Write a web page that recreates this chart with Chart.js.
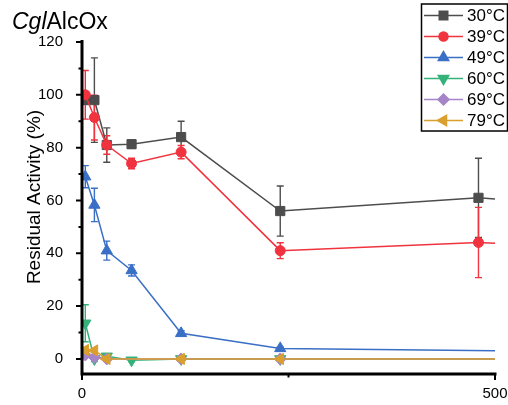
<!DOCTYPE html>
<html>
<head>
<meta charset="utf-8">
<script src="https://cdn.jsdelivr.net/npm/chart.js@4.4.1/dist/chart.umd.min.js"></script>
<style>
  html, body { margin: 0; padding: 0; background: #fff; }
  #wrap { width: 508px; height: 405px; position: relative; }
</style>
</head>
<body>
<div id="wrap"><canvas id="alcChart"></canvas></div>
<script>
// incubation times (min); the last point lies past the visible axis
const timesMain = [4, 15, 30, 60, 120, 240, 480, 1440];
const timesMid = [4, 15, 30, 60, 120, 240, 1440];
const timesHot = [4, 15, 30, 120, 240, 1440];

const seriesNames = ["30°C", "39°C", "49°C", "60°C", "69°C", "79°C"];

// residual activity (%) and standard deviation
const act30 = [98, 98, 81, 81.3, 84, 56, 61, 40.7];
const err30 = [1.5, 16, 6.5, 1.5, 6, 9.5, 15, 0];
const act39 = [100, 91.4, 81, 74, 78.3, 41, 44.1, 29];
const err39 = [9.2, 8.5, 3.5, 2, 2.5, 3, 13.3, 0];
const act49 = [69, 58.3, 41, 33.5, 9.7, 4, 0];
const err49 = [4.2, 6.3, 3.6, 2.1, 1, 0.5, 0];
const act60 = [13.5, 0, 1, -0.5, 0, 0, 0];
const err60 = [7, 1, 0.5, 0.5, 0, 0, 0];
const act69 = [1.5, 0.6, 0, 0, 0, 0];
const act79 = [3.4, 3.2, 0, 0, 0, 0];

const yTicks = [0, 20, 40, 60, 80, 100, 120];
const xTicks = [0, 500];

const colors = ["#4d4d4d", "#f0333e", "#3a6fc6", "#35b27a", "#a684c8", "#d9a030"];
const markers = ["rect", "circle", "triangle", "triangle", "rectRot", "triangle"];
const rotations = [0, 0, 0, 180, 0, -90];
const radii = [6.5, 5, 6.5, 6.5, 6, 6.5];

const FONT = "'Liberation Sans', Arial, sans-serif";

function pts(xs, ys) {
  return ys.map((v, i) => ({ x: xs[i], y: v }));
}

const rows = [
  [timesMain, act30, err30],
  [timesMain, act39, err39],
  [timesMid, act49, err49],
  [timesMid, act60, err60],
  [timesHot, act69, null],
  [timesHot, act79, null]
];

const datasets = rows.map(([xs, ys, es], i) => ({
  label: seriesNames[i],
  data: pts(xs, ys),
  errors: es,
  borderColor: colors[i],
  backgroundColor: colors[i],
  borderWidth: 1.5,
  pointStyle: markers[i],
  pointRotation: rotations[i],
  pointRadius: radii[i],
  pointBorderWidth: 1,
  tension: 0,
  order: -i
}));

// vertical error bars with caps
const errorBars = {
  id: "errorBars",
  beforeDatasetsDraw(chart) {
    const { ctx, chartArea, scales: { x, y } } = chart;
    ctx.save();
    ctx.beginPath();
    ctx.rect(chartArea.left, 0, chartArea.right - chartArea.left, chartArea.bottom);
    ctx.clip();
    chart.data.datasets.forEach(ds => {
      if (!ds.errors) return;
      ctx.strokeStyle = ds.borderColor;
      ctx.lineWidth = 1.4;
      ds.data.forEach((p, j) => {
        const e = ds.errors[j];
        if (!e) return;
        const px = x.getPixelForValue(p.x);
        if (px > chartArea.right) return;
        const t = y.getPixelForValue(p.y + e);
        const b = y.getPixelForValue(p.y - e);
        ctx.beginPath();
        ctx.moveTo(px, t); ctx.lineTo(px, b);
        ctx.moveTo(px - 3.5, t); ctx.lineTo(px + 3.5, t);
        ctx.moveTo(px - 3.5, b); ctx.lineTo(px + 3.5, b);
        ctx.stroke();
      });
    });
    ctx.restore();
  }
};

// thick axis lines with major/minor ticks
const axesFrame = {
  id: "axesFrame",
  afterDatasetsDraw(chart) {
    const { ctx, chartArea: a, scales: { x, y } } = chart;
    ctx.save();
    ctx.strokeStyle = "#000";
    ctx.lineWidth = 3;
    ctx.beginPath();
    ctx.moveTo(a.left, a.top - 2);
    ctx.lineTo(a.left, a.bottom + 1.5);
    ctx.moveTo(a.left - 1.5, a.bottom);
    ctx.lineTo(a.right + 1.5, a.bottom);
    ctx.stroke();
    ctx.lineWidth = 2;
    ctx.beginPath();
    for (let v = 0; v <= 120; v += 10) {
      const py = y.getPixelForValue(v);
      const len = v % 20 === 0 ? 6 : 3.5;
      ctx.moveTo(a.left - len, py);
      ctx.lineTo(a.left, py);
    }
    [0, 250, 500].forEach(v => {
      const px = x.getPixelForValue(v);
      const len = v === 250 ? 3.5 : 6;
      ctx.moveTo(px, a.bottom);
      ctx.lineTo(px, a.bottom + len);
    });
    ctx.stroke();
    ctx.restore();
  }
};

// panel title, y-axis title and framed legend
const annotations = {
  id: "annotations",
  afterDraw(chart) {
    const { ctx } = chart;
    ctx.save();
    ctx.fillStyle = "#000";
    ctx.textBaseline = "alphabetic";
    ctx.textAlign = "left";
    ctx.font = "italic 23px " + FONT;
    ctx.fillText("Cgl", 12, 29);
    const w = ctx.measureText("Cgl").width;
    ctx.font = "23px " + FONT;
    ctx.fillText("AlcOx", 12 + w, 29);

    ctx.save();
    ctx.translate(35, 197);
    ctx.rotate(-Math.PI / 2);
    ctx.textAlign = "center";
    ctx.textBaseline = "middle";
    ctx.font = "19px " + FONT;
    ctx.fillText("Residual Activity (%)", 0, 0);
    ctx.restore();

    ctx.strokeStyle = "#000";
    ctx.lineWidth = 1.5;
    ctx.strokeRect(421.5, 4, 86, 127);
    chart.data.datasets.forEach((ds, i) => {
      const cy = 15.5 + i * 21;
      ctx.strokeStyle = ds.borderColor;
      ctx.lineWidth = 1.5;
      ctx.beginPath();
      ctx.moveTo(424, cy);
      ctx.lineTo(463, cy);
      ctx.stroke();
      ctx.fillStyle = ds.backgroundColor;
      Chart.helpers.drawPoint(ctx, {
        pointStyle: ds.pointStyle,
        rotation: ds.pointRotation,
        radius: ds.pointRadius - 0.5,
        borderWidth: 1
      }, 443.5, cy);
      ctx.fillStyle = "#000";
      ctx.font = "17px " + FONT;
      ctx.textBaseline = "middle";
      ctx.fillText(ds.label, 467, cy + 1);
    });
    ctx.restore();
  }
};

new Chart(document.getElementById("alcChart"), {
  type: "line",
  data: { datasets },
  plugins: [errorBars, axesFrame, annotations],
  options: {
    responsive: true,
    maintainAspectRatio: false,
    animation: false,
    layout: { padding: { top: 42, right: 13, left: 0, bottom: 0 } },
    plugins: {
      legend: { display: false },
      tooltip: { enabled: false }
    },
    scales: {
      x: {
        type: "linear",
        min: 0,
        max: 500,
        afterBuildTicks: s => { s.ticks = xTicks.map(v => ({ value: v })); },
        afterFit: s => { s.height = 31; s.paddingLeft = 0; s.paddingRight = 0; },
        grid: { display: false },
        border: { display: false },
        ticks: { color: "#000", padding: 3, font: { size: 15, family: FONT } }
      },
      y: {
        min: -5.7,
        max: 120,
        afterBuildTicks: s => { s.ticks = yTicks.map(v => ({ value: v })); },
        afterFit: s => { s.width = 82; s.paddingTop = 0; s.paddingBottom = 0; },
        grid: { display: false },
        border: { display: false },
        ticks: { color: "#000", padding: 11, font: { size: 15, family: FONT } }
      }
    }
  }
});
</script>
</body>
</html>
